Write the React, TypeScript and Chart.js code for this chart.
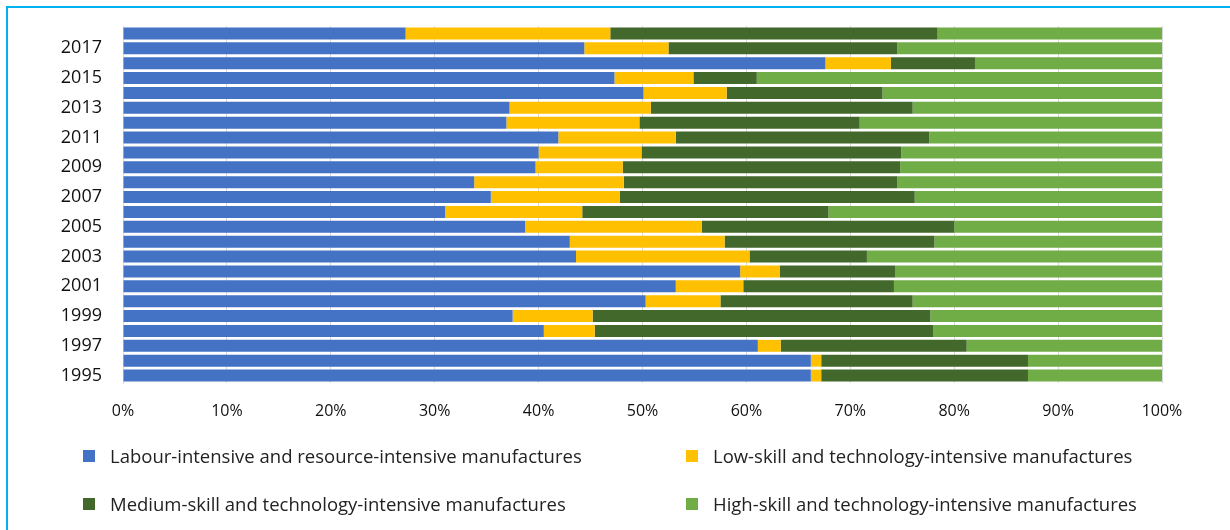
import React, { useEffect, useRef } from "react";
import { Chart, registerables } from "chart.js";

Chart.register(...registerables);

const years = [1995, 1996, 1997, 1998, 1999, 2000, 2001, 2002, 2003, 2004, 2005, 2006, 2007, 2008, 2009, 2010, 2011, 2012, 2013, 2014, 2015, 2016, 2017, 2018];

const labourIntensive = [66.2, 66.2, 61.1, 40.5, 37.5, 50.3, 53.2, 59.4, 43.6, 43.0, 38.7, 31.0, 35.4, 33.8, 39.7, 40.0, 41.9, 36.9, 37.2, 50.1, 47.3, 67.6, 44.4, 27.2];
const lowSkill = [1.0, 1.0, 2.2, 4.9, 7.7, 7.2, 6.5, 3.8, 16.7, 14.9, 17.0, 13.2, 12.4, 14.4, 8.4, 9.9, 11.3, 12.8, 13.6, 8.0, 7.6, 6.3, 8.1, 19.7];
const mediumSkill = [19.9, 19.9, 17.9, 32.6, 32.5, 18.5, 14.5, 11.1, 11.3, 20.2, 24.3, 23.7, 28.4, 26.3, 26.7, 25.0, 24.4, 21.2, 25.2, 15.0, 6.1, 8.1, 22.0, 31.5];
const highSkill = [12.9, 12.9, 18.8, 22.0, 22.3, 24.0, 25.8, 25.7, 28.4, 21.9, 20.0, 32.1, 23.8, 25.5, 25.2, 25.1, 22.4, 29.1, 24.0, 26.9, 39.0, 18.0, 25.5, 21.6];

const seriesNames = [
  "Labour-intensive and resource-intensive manufactures",
  "Low-skill and technology-intensive manufactures",
  "Medium-skill and technology-intensive manufactures",
  "High-skill and technology-intensive manufactures",
];
const seriesColors = ["#4472C4", "#FFC000", "#43682B", "#70AD47"];
const xTicks = [0, 10, 20, 30, 40, 50, 60, 70, 80, 90, 100];

const FONT = "'Open Sans', 'Noto Sans', sans-serif";

export default function App() {
  const canvasRef = useRef<HTMLCanvasElement | null>(null);

  useEffect(() => {
    if (!canvasRef.current) return;
    const values = [labourIntensive, lowSkill, mediumSkill, highSkill];
    const chart = new Chart(canvasRef.current, {
      type: "bar",
      data: {
        labels: years.map(String),
        datasets: seriesNames.map((name, i) => ({
          label: name,
          data: values[i],
          backgroundColor: seriesColors[i],
          borderWidth: 0,
          barPercentage: 0.8,
          categoryPercentage: 1,
        })),
      },
      options: {
        indexAxis: "y",
        responsive: false,
        animation: false,
        layout: { padding: { top: 26, right: 68, bottom: 107, left: 0 } },
        plugins: { legend: { display: false }, tooltip: { enabled: false } },
        scales: {
          x: {
            stacked: true,
            min: 0,
            max: 100,
            afterTickToLabelConversion: (scale: any) => {
              scale.ticks = xTicks.map((v) => ({ value: v, label: v + "%" }));
            },
            afterFit: (scale: any) => {
              scale.height = 40;
            },
            ticks: {
              stepSize: 10,
              padding: 19,
              color: "#111",
              font: { family: FONT, size: 16 },
              callback: (v: any) => v + "%",
            },
            grid: { color: "#D9D9D9", lineWidth: 1, drawTicks: false },
            border: { display: false },
          },
          y: {
            stacked: true,
            reverse: true,
            afterFit: (scale: any) => {
              scale.width = 123;
              scale.paddingTop = 0;
              scale.paddingBottom = 0;
            },
            ticks: {
              autoSkip: false,
              padding: 21,
              color: "#111",
              font: { family: FONT, size: 18 },
              callback: (_v: any, idx: number) => (years[idx] % 2 === 1 ? String(years[idx]) : ""),
            },
            grid: { display: false, drawTicks: false },
            border: { display: true, color: "#D9D9D9", width: 1 },
          },
        },
      },
    });
    return () => chart.destroy();
  }, []);

  const legendItem = (i: number, left: number, centerY: number) => (
    <div
      key={i}
      style={{ position: "absolute", left, top: centerY - 12, height: 24, display: "flex", alignItems: "center", whiteSpace: "nowrap" }}
    >
      <span style={{ display: "inline-block", width: 12, height: 12, background: seriesColors[i], marginRight: 15 }} />
      <span style={{ fontFamily: FONT, fontSize: 18.5, color: "#222", lineHeight: "24px" }}>{seriesNames[i]}</span>
    </div>
  );

  return (
    <div style={{ position: "absolute", left: 0, top: 0, width: 1230, height: 530, overflow: "hidden", background: "#fff" }}>
      <div
        style={{
          position: "absolute",
          left: 6,
          top: 6,
          width: 1300,
          height: 600,
          border: "2px solid #00B0F0",
          boxSizing: "border-box",
        }}
      />
      <canvas ref={canvasRef} width={1230} height={530} style={{ position: "absolute", left: 0, top: 0, width: 1230, height: 530 }} />
      {legendItem(0, 83, 456)}
      {legendItem(1, 686, 456)}
      {legendItem(2, 83, 504)}
      {legendItem(3, 686, 504)}
    </div>
  );
}
